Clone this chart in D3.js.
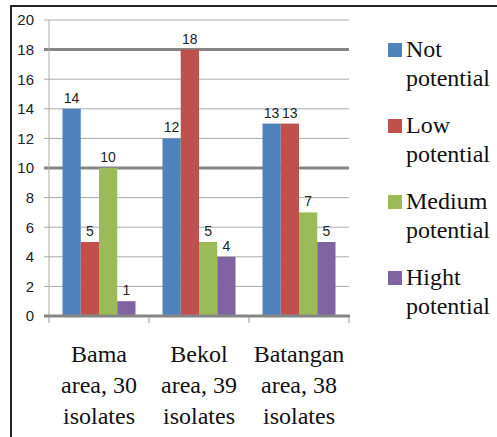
<!DOCTYPE html>
<html><head><meta charset="utf-8">
<script src="https://cdn.jsdelivr.net/npm/d3@7"></script>
<style>body{margin:0;background:#fff}
#wrap{position:relative;width:497px;height:437px}
svg{display:block;position:absolute;left:0;top:0}
.lab{position:absolute;font-family:'Liberation Serif','Times New Roman',serif;font-size:24px;color:#111;white-space:nowrap;line-height:1}
</style>
</head><body>
<div id="wrap"><svg id="c" width="497" height="437"></svg></div>
<script>
const categories = [["Bama","area, 30","isolates"],["Bekol","area, 39","isolates"],["Batangan","area, 38","isolates"]];
const seriesNames = [["Not","potential"],["Low","potential"],["Medium","potential"],["Hight","potential"]];
const seriesColors = ["#4F81BD","#C0504D","#9BBB59","#8064A2"];
const notPotential = [14,12,13];
const lowPotential = [5,18,13];
const mediumPotential = [10,5,7];
const highPotential = [1,4,5];
const yTicks = [0,2,4,6,8,10,12,14,16,18,20];
const series = [notPotential, lowPotential, mediumPotential, highPotential];

const SANS = "'Liberation Sans',Arial";
const svg = d3.select("#c");
const wrap = d3.select("#wrap");

const x0 = d3.scaleBand().domain(d3.range(categories.length)).range([49,349]).paddingInner(0.27).paddingOuter(0.135);
const x1 = d3.scaleBand().domain(d3.range(series.length)).range([0,x0.bandwidth()]);
const y = d3.scaleLinear().domain([0,20]).range([316,20]);

svg.append("path").attr("d","M11,437 V6 H497").attr("fill","none").attr("stroke","#222").attr("stroke-width",2);

svg.append("g").selectAll("line").data(yTicks.filter(t=>t>0)).join("line")
  .attr("x1",44).attr("x2",349).attr("y1",d=>y(d)).attr("y2",d=>y(d))
  .attr("stroke",d=>(d===18||d===10)?"#858585":"#ABABAB")
  .attr("stroke-width",d=>(d===18||d===10)?3:1);
svg.append("line").attr("x1",49).attr("x2",49).attr("y1",y(20)).attr("y2",y(0)).attr("stroke","#ABABAB");

svg.append("g").selectAll("text").data(yTicks).join("text")
  .attr("font-family",SANS).attr("font-size",15)
  .attr("x",34).attr("y",d=>y(d)).attr("dy","0.36em").attr("text-anchor","end")
  .attr("fill","#222").text(d=>d);

const g = svg.append("g");
series.forEach((vals,si)=>{
  g.append("g").selectAll("rect").data(vals).join("rect")
    .attr("x",(d,i)=>x0(i)+x1(si)).attr("width",x1.bandwidth())
    .attr("y",d=>y(d)).attr("height",d=>y(0)-y(d))
    .attr("fill",seriesColors[si]);
  g.append("g").selectAll("text").data(vals).join("text")
    .attr("font-family",SANS).attr("font-size",14)
    .attr("x",(d,i)=>x0(i)+x1(si)+x1.bandwidth()/2).attr("y",d=>y(d)-6)
    .attr("text-anchor","middle").attr("fill","#222").text(d=>d);
});

svg.append("line").attr("x1",44).attr("x2",350).attr("y1",y(0)).attr("y2",y(0)).attr("stroke","#858585").attr("stroke-width",3);
const bounds = [x0.range()[0], ...d3.range(1,categories.length).map(i=>(x0(i-1)+x0.bandwidth()+x0(i))/2), x0.range()[1]];
svg.append("g").selectAll("line").data(bounds).join("line")
  .attr("x1",d=>d).attr("x2",d=>d).attr("y1",y(0)).attr("y2",y(0)+7).attr("stroke","#999");

// legend swatches
seriesNames.forEach((lines,si)=>{
  const by = 58 + si*76;
  svg.append("rect").attr("x",388).attr("y",by-15).attr("width",14).attr("height",14).attr("fill",seriesColors[si]);
});

// serif labels as HTML text (baseline approx: top = baseline - 0.89em)
categories.forEach((lines,i)=>{
  const cx = x0(i)+x0.bandwidth()/2;
  lines.forEach((ln,j)=>{
    wrap.append("div").attr("class","lab")
      .style("left",(cx-60)+"px").style("width","120px").style("text-align","center")
      .style("top",(363+j*31-21)+"px").text(ln);
  });
});
seriesNames.forEach((lines,si)=>{
  const by = 58 + si*76;
  lines.forEach((ln,j)=>{
    wrap.append("div").attr("class","lab")
      .style("left","406px").style("top",(by+j*29-21)+"px").text(ln);
  });
});
</script>
</body></html>
